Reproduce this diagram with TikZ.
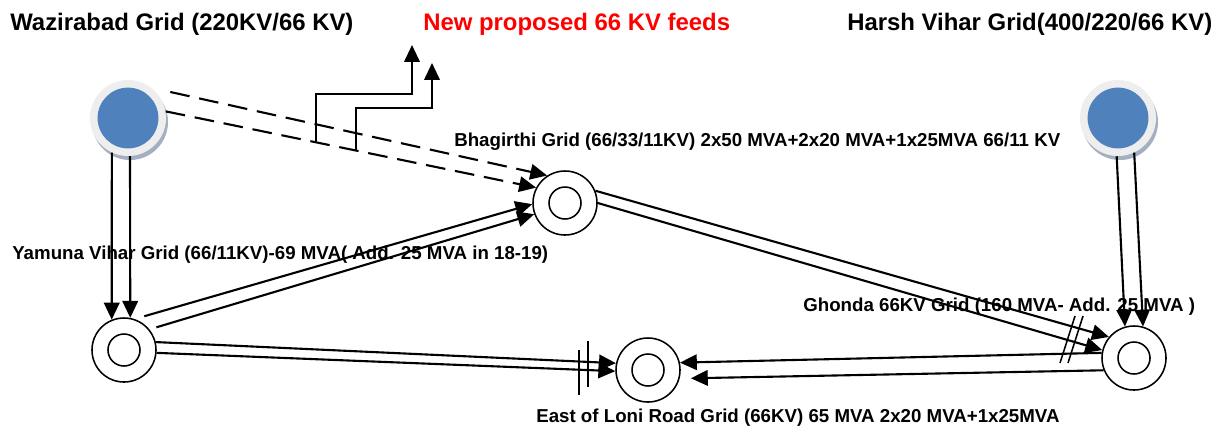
\documentclass[tikz,border=0pt]{standalone}
\usepackage{fontspec}
\setmainfont{Liberation Sans}
\usetikzlibrary{arrows.meta}
\definecolor{gridblue}{RGB}{79,129,189}
\definecolor{ringgray}{RGB}{238,238,238}
\definecolor{ringshade}{RGB}{165,175,194}

\begin{document}
\begin{tikzpicture}[x=0.025cm, y=-0.025cm,
		ring/.style={circle, draw, line width=1.1pt, minimum size=1.6cm, inner sep=0pt},
		hub/.style={circle, draw, line width=1.1pt, minimum size=0.8cm, inner sep=0pt},
		feed/.style={line width=1.5pt, -{Triangle[length=12pt,width=11pt]}},
		proposed/.style={feed, dash pattern=on 14pt off 7pt},
		tick/.style={line width=1.1pt},
		title/.style={anchor=base west, inner sep=0pt, font=\fontsize{17}{20}\selectfont\bfseries},
		label/.style={anchor=base west, inner sep=0pt, font=\fontsize{13.3}{16}\selectfont\bfseries}]
		\useasboundingbox (0,0) rectangle (1220,430);
		
		\node (tw) at (10,30) [title] {Wazirabad Grid (220KV/66 KV)};
		\node (tn) at (423,30) [title, text=red] {New proposed 66 KV feeds};
		\node (th) at (847,30) [title] {Harsh Vihar Grid(400/220/66 KV)};
		\node (lb) at (454,146) [label] {Bhagirthi Grid (66/33/11KV) 2x50 MVA+2x20 MVA+1x25MVA 66/11 KV};
		\node (ly) at (12,259) [label] {Yamuna Vihar Grid (66/11KV)-69 MVA( Add. 25 MVA in 18-19)};
		\node (lg) at (803,311) [label] {Ghonda 66KV Grid (160 MVA- Add. 25 MVA )};
		\node (le) at (536,422) [label] {East of Loni Road Grid (66KV) 65 MVA 2x20 MVA+1x25MVA};
		
		\foreach \n/\x in {wz/128, hv/1118} {
			\node (\n-s) at (\x+2,122) [circle, fill=ringshade, minimum size=1.9cm, inner sep=0pt] {};
			\node (\n) at (\x,118) [circle, fill=ringgray, minimum size=1.9cm, inner sep=0pt] {};
			\node (\n-c) at (\n) [circle, fill=gridblue, minimum size=1.52cm, inner sep=0pt] {};
		}
		
		\foreach \n/\x/\y in {yv/124/350, bg/565/203, el/648/370, gh/1134/358} {
			\node (\n) at (\x,\y) [ring] {};
			\node (\n-c) at (\n) [hub] {};
		}
		
		\draw[feed] (wz.245) -- (yv.112);
		\draw[feed] (wz.273) -- (yv.79);
		\draw[feed] (hv.268) -- (gh.106);
		\draw[feed] (hv.295) -- (gh.74);
		
		\draw[proposed, shorten <=0.48cm] (wz.52) -- (bg.123);
		\draw[proposed] (wz.10) -- coordinate[pos=0.406] (f1) coordinate[pos=0.513] (f2) (bg.152);
		\coordinate (n1) at (412,45);
		\coordinate (n2) at (432,63);
		\draw[feed] (f1) -- ++(0,-48.5) -| (n1);
		\draw[feed] (f2) -- ++(0,-42.7) -| (n2);
		
		\draw[feed, shorten <=0.25cm] (yv.71) -- (bg.182);
		\draw[feed, shorten <=0.18cm] (yv.39) -- (bg.200);
		\draw[feed] (yv.14) -- (el.168);
		\draw[feed] (yv.355) -- (el.182);
		\draw[feed] (bg.22) -- (gh.140);
		\draw[feed] (bg.0) -- (gh.166);
		\draw[feed] (gh.171) -- (el.13);
		\draw[feed, shorten >=0.28cm] (gh.202) -- (el.345);
		
		\draw[tick] (579,350) -- (579,395);
		\draw[tick] (588,341) -- (588,387);
		\draw[tick] (1083,316) -- (1068,363);
		\draw[tick] (1075,316) -- (1060,363);
		
	\end{tikzpicture}
\end{document}
